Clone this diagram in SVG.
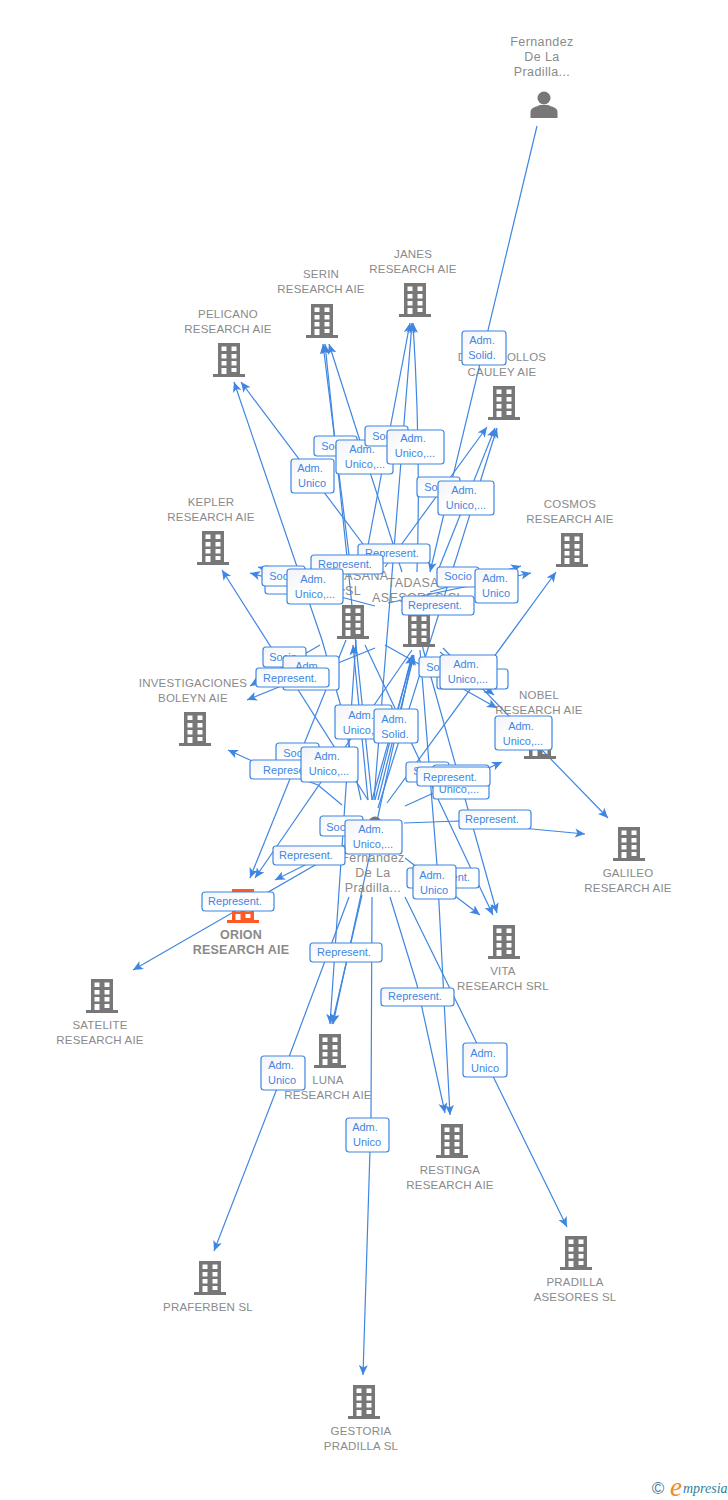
<svg xmlns="http://www.w3.org/2000/svg" width="728" height="1500" viewBox="0 0 728 1500">
<style>
.e{fill:none;stroke:#3f86e2;stroke-width:1.2;marker-end:url(#a)}
.n{font:11.5px "Liberation Sans",Arial,sans-serif;fill:#8a8a8a;text-anchor:middle;letter-spacing:.2px}
.big{font-size:12.5px;letter-spacing:.4px}
.b{fill:url(#g);stroke:#3f86e2;stroke-width:1.2}
.l{font:11px "Liberation Sans",Arial,sans-serif;fill:#3f86e2;text-anchor:middle}
</style>
<defs>
<linearGradient id="g" x1="0" y1="0" x2="1" y2="1"><stop offset="0" stop-color="#f1f3f7"/><stop offset=".5" stop-color="#fff"/><stop offset="1" stop-color="#fff"/></linearGradient>
<marker id="a" markerUnits="userSpaceOnUse" markerWidth="12" markerHeight="12" refX="10" refY="5" orient="auto"><path d="M0,0.500L10,5L0,9.500L2.500,5Z" fill="#3f86e2"/></marker>
<g id="bd"><path fill-rule="evenodd" d="M-11,-17H11V14H16V17H-16V14H-11ZM-7.500,-13.500V-9H-2.500V-13.500ZM2.500,-13.500V-9H7.500V-13.500ZM-7.500,-6V-1.500H-2.500V-6ZM2.500,-6V-1.500H7.500V-6ZM-7.500,1V5.500H-2.500V1ZM2.500,1V5.500H7.500V1ZM-7.500,8V14H-2.500V8ZM2.500,8V12H7.500V8Z"/></g>
<g id="pr"><circle cx="0" cy="-7" r="6.500"/><path d="M-13.500,13V7C-13.500,3 -9,2 -4,0H4C9,2 13.500,3 13.500,7V13Z"/></g>
</defs>
<rect width="728" height="1500" fill="#fff"/>
<g id="connectors">
<path class="e" d="M537,126L430,572"/>
<path class="e" d="M366,556L410,323"/>
<path class="e" d="M374,800L412,323"/>
<path class="e" d="M417,572Q421,450 413,323"/>
<path class="e" d="M349,555L323,344"/>
<path class="e" d="M372,800L325,344"/>
<path class="e" d="M402,572L329,344"/>
<path class="e" d="M375,560L241,382"/>
<path class="e" d="M361,800L340,703L322,640L234,382"/>
<path class="e" d="M385,567L487,427"/>
<path class="e" d="M437,573L495,428"/>
<path class="e" d="M378,808L497,428"/>
<path class="e" d="M368,800L222,570"/>
<path class="e" d="M387,803L556,572"/>
<path class="e" d="M375,606L250,573"/>
<path class="e" d="M345,590L258,567"/>
<path class="e" d="M388,603L531,573"/>
<path class="e" d="M430,592L521,566"/>
<path class="e" d="M375,648L247,700"/>
<path class="e" d="M320,645L250,686"/>
<path class="e" d="M342,805L318,785L250,760L228,750"/>
<path class="e" d="M385,645L497,708"/>
<path class="e" d="M440,652L494,695"/>
<path class="e" d="M405,806L502,762"/>
<path class="e" d="M443,648L608,818"/>
<path class="e" d="M404,823L459,821L532,829L585,834"/>
<path class="e" d="M405,858L480,915"/>
<path class="e" d="M422,645L497,913"/>
<path class="e" d="M365,645L493,915"/>
<path class="e" d="M346,640L250,878"/>
<path class="e" d="M412,650L255,878"/>
<path class="e" d="M345,845L275,880"/>
<path class="e" d="M350,845L133,970"/>
<path class="e" d="M356,640L330,1024"/>
<path class="e" d="M413,655L333,1024"/>
<path class="e" d="M362,895L332,1024"/>
<path class="e" d="M390,897L417,985L445,1113"/>
<path class="e" d="M420,650L437,865L450,1115"/>
<path class="e" d="M349,897L283,1073L214,1251"/>
<path class="e" d="M405,897L485,1060L567,1227"/>
<path class="e" d="M372,897L371,1118L363,1375"/>
<path class="e" d="M368,800L353,645"/>
<path class="e" d="M372,800L413,655"/>
<path class="e" d="M375,800L412,655"/>
<path class="e" d="M378,800L414,655"/>
</g>
<g id="n-fernandez-top" fill="#777"><use href="#pr" x="544" y="105"/><text class="n big"><tspan x="542" y="46">Fernandez</tspan><tspan x="542" y="61">De La</tspan><tspan x="542" y="76">Pradilla...</tspan></text></g>
<g id="n-janes" fill="#777"><use href="#bd" x="415" y="300"/><text class="n"><tspan x="413" y="258">JANES</tspan><tspan x="413" y="273">RESEARCH AIE</tspan></text></g>
<g id="n-serin" fill="#777"><use href="#bd" x="322" y="321"/><text class="n"><tspan x="321" y="278">SERIN</tspan><tspan x="321" y="293">RESEARCH AIE</tspan></text></g>
<g id="n-pelicano" fill="#777"><use href="#bd" x="229" y="360"/><text class="n"><tspan x="228" y="318">PELICANO</tspan><tspan x="228" y="333">RESEARCH AIE</tspan></text></g>
<g id="n-desarrollos" fill="#777"><use href="#bd" x="504" y="403"/><text class="n"><tspan x="502" y="361">DESARROLLOS</tspan><tspan x="502" y="376">CAULEY AIE</tspan></text></g>
<g id="n-kepler" fill="#777"><use href="#bd" x="213" y="548"/><text class="n"><tspan x="211" y="506">KEPLER</tspan><tspan x="211" y="521">RESEARCH AIE</tspan></text></g>
<g id="n-cosmos" fill="#777"><use href="#bd" x="572" y="550"/><text class="n"><tspan x="570" y="508">COSMOS</tspan><tspan x="570" y="523">RESEARCH AIE</tspan></text></g>
<g id="n-masana" fill="#777"><use href="#bd" x="353" y="622"/><text class="n big"><tspan x="361" y="580">MASANA</tspan><tspan x="353" y="595">SL</tspan></text></g>
<g id="n-tadasan" fill="#777"><use href="#bd" x="419" y="630"/><text class="n big"><tspan x="418" y="587">TADASAN</tspan><tspan x="418" y="602">ASESORES SL</tspan></text></g>
<g id="n-investigaciones" fill="#777"><use href="#bd" x="195" y="729"/><text class="n"><tspan x="193" y="687">INVESTIGACIONES</tspan><tspan x="193" y="702">BOLEYN AIE</tspan></text></g>
<g id="n-nobel" fill="#777"><use href="#bd" x="540" y="742"/><text class="n"><tspan x="539" y="699">NOBEL</tspan><tspan x="539" y="714">RESEARCH AIE</tspan></text></g>
<g id="n-galileo" fill="#777"><use href="#bd" x="629" y="844"/><text class="n"><tspan x="628" y="877">GALILEO</tspan><tspan x="628" y="892">RESEARCH AIE</tspan></text></g>
<g id="n-hub" fill="#777"><use href="#pr" x="375" y="830"/><text class="n big"><tspan x="373" y="862">Fernandez</tspan><tspan x="373" y="877">De La</tspan><tspan x="373" y="892">Pradilla...</tspan></text></g>
<g id="n-orion" fill="#ff5a26"><use href="#bd" x="243" y="906"/><text class="n" style="font-weight:bold;font-size:12.500px"><tspan x="241" y="939">ORION</tspan><tspan x="241" y="954">RESEARCH AIE</tspan></text></g>
<g id="n-satelite" fill="#777"><use href="#bd" x="102" y="996"/><text class="n"><tspan x="100" y="1029">SATELITE</tspan><tspan x="100" y="1044">RESEARCH AIE</tspan></text></g>
<g id="n-vita" fill="#777"><use href="#bd" x="504" y="942"/><text class="n"><tspan x="503" y="975">VITA</tspan><tspan x="503" y="990">RESEARCH SRL</tspan></text></g>
<g id="n-luna" fill="#777"><use href="#bd" x="330" y="1051"/><text class="n"><tspan x="328" y="1084">LUNA</tspan><tspan x="328" y="1099">RESEARCH AIE</tspan></text></g>
<g id="n-restinga" fill="#777"><use href="#bd" x="452" y="1141"/><text class="n"><tspan x="450" y="1174">RESTINGA</tspan><tspan x="450" y="1189">RESEARCH AIE</tspan></text></g>
<g id="n-praferben" fill="#777"><use href="#bd" x="210" y="1278"/><text class="n"><tspan x="208" y="1311">PRAFERBEN SL</tspan></text></g>
<g id="n-pradilla" fill="#777"><use href="#bd" x="576" y="1253"/><text class="n"><tspan x="575" y="1286">PRADILLA</tspan><tspan x="575" y="1301">ASESORES SL</tspan></text></g>
<g id="n-gestoria" fill="#777"><use href="#bd" x="364" y="1402"/><text class="n"><tspan x="361" y="1435">GESTORIA</tspan><tspan x="361" y="1450">PRADILLA SL</tspan></text></g>
<g id="edge-labels">
<rect class="b" x="462" y="331" width="44" height="34" rx="3"/><text class="l"><tspan x="482" y="344">Adm.</tspan><tspan x="482" y="359">Solid.</tspan></text>
<rect class="b" x="314" y="436" width="43" height="20" rx="3"/><text class="l" x="335" y="450">Socio</text>
<rect class="b" x="336" y="440" width="57" height="34" rx="3"/><text class="l"><tspan x="362" y="453">Adm.</tspan><tspan x="365" y="468">Unico,...</tspan></text>
<rect class="b" x="365" y="426" width="43" height="20" rx="3"/><text class="l" x="386" y="440">Socio</text>
<rect class="b" x="387" y="430" width="57" height="34" rx="3"/><text class="l"><tspan x="413" y="442">Adm.</tspan><tspan x="415" y="457">Unico,...</tspan></text>
<rect class="b" x="291" y="459" width="43" height="34" rx="3"/><text class="l"><tspan x="310" y="472">Adm.</tspan><tspan x="312" y="487">Unico</tspan></text>
<rect class="b" x="417" y="477" width="43" height="20" rx="3"/><text class="l" x="438" y="491">Socio</text>
<rect class="b" x="438" y="481" width="56" height="34" rx="3"/><text class="l"><tspan x="464" y="494">Adm.</tspan><tspan x="466" y="509">Unico,...</tspan></text>
<rect class="b" x="358" y="544" width="72" height="19" rx="3"/><text class="l" x="392" y="557">Represent.</text>
<rect class="b" x="311" y="555" width="72" height="19" rx="3"/><text class="l" x="345" y="568">Represent.</text>
<rect class="b" x="265" y="574" width="43" height="20" rx="3"/>
<rect class="b" x="262" y="566" width="43" height="20" rx="3"/><text class="l" x="283" y="580">Socio</text>
<rect class="b" x="287" y="569" width="56" height="35" rx="3"/><text class="l"><tspan x="313" y="583">Adm.</tspan><tspan x="315" y="598">Unico,...</tspan></text>
<rect class="b" x="437" y="567" width="42" height="20" rx="3"/><text class="l" x="458" y="580">Socio</text>
<rect class="b" x="475" y="569" width="43" height="34" rx="3"/><text class="l"><tspan x="495" y="582">Adm.</tspan><tspan x="496" y="597">Unico</tspan></text>
<rect class="b" x="402" y="596" width="72" height="19" rx="3"/><text class="l" x="435" y="609">Represent.</text>
<rect class="b" x="263" y="647" width="43" height="20" rx="3"/><text class="l" x="283" y="661">Socio</text>
<rect class="b" x="283" y="656" width="56" height="34" rx="3"/><text class="l"><tspan x="308" y="670">Adm.</tspan></text>
<rect class="b" x="256" y="668" width="73" height="19" rx="3"/><text class="l" x="290" y="682">Represent.</text>
<rect class="b" x="437" y="669" width="71" height="20" rx="3"/>
<rect class="b" x="419" y="657" width="43" height="20" rx="3"/><text class="l" x="440" y="671">Socio</text>
<rect class="b" x="440" y="655" width="57" height="34" rx="3"/><text class="l"><tspan x="466" y="668">Adm.</tspan><tspan x="468" y="683">Unico,...</tspan></text>
<rect class="b" x="335" y="705" width="57" height="34" rx="3"/><text class="l"><tspan x="361" y="719">Adm.</tspan><tspan x="363" y="734">Unico,...</tspan></text>
<rect class="b" x="374" y="709" width="44" height="34" rx="3"/><text class="l"><tspan x="394" y="723">Adm.</tspan><tspan x="395" y="738">Solid.</tspan></text>
<rect class="b" x="495" y="716" width="57" height="34" rx="3"/><text class="l"><tspan x="521" y="730">Adm.</tspan><tspan x="523" y="745">Unico,...</tspan></text>
<rect class="b" x="276" y="743" width="43" height="20" rx="3"/><text class="l" x="297" y="757">Socio</text>
<rect class="b" x="250" y="760" width="73" height="19" rx="3"/><text class="l" x="290" y="774">Represent.</text>
<rect class="b" x="301" y="747" width="57" height="35" rx="3"/><text class="l"><tspan x="327" y="760">Adm.</tspan><tspan x="329" y="775">Unico,...</tspan></text>
<rect class="b" x="406" y="762" width="43" height="20" rx="3"/><text class="l" x="427" y="775">Socio</text>
<rect class="b" x="433" y="765" width="56" height="34" rx="3"/><text class="l"><tspan x="459" y="793">Unico,...</tspan></text>
<rect class="b" x="417" y="767" width="73" height="19" rx="3"/><text class="l" x="450" y="781">Represent.</text>
<rect class="b" x="320" y="816" width="43" height="20" rx="3"/><text class="l" x="340" y="831">Socio</text>
<rect class="b" x="345" y="820" width="57" height="34" rx="3"/><text class="l"><tspan x="371" y="833">Adm.</tspan><tspan x="373" y="848">Unico,...</tspan></text>
<rect class="b" x="459" y="810" width="72" height="19" rx="3"/><text class="l" x="492" y="823">Represent.</text>
<rect class="b" x="273" y="846" width="72" height="19" rx="3"/><text class="l" x="306" y="859">Represent.</text>
<rect class="b" x="407" y="868" width="72" height="20" rx="3"/><text class="l" x="443" y="881">Represent.</text>
<rect class="b" x="413" y="865" width="43" height="34" rx="3"/><text class="l"><tspan x="432" y="879">Adm.</tspan><tspan x="434" y="894">Unico</tspan></text>
<rect class="b" x="202" y="892" width="72" height="19" rx="3"/><text class="l" x="235" y="905">Represent.</text>
<rect class="b" x="310" y="943" width="72" height="19" rx="3"/><text class="l" x="344" y="956">Represent.</text>
<rect class="b" x="381" y="988" width="73" height="18" rx="3"/><text class="l" x="415" y="1000">Represent.</text>
<rect class="b" x="463" y="1043" width="44" height="34" rx="3"/><text class="l"><tspan x="483" y="1057">Adm.</tspan><tspan x="485" y="1072">Unico</tspan></text>
<rect class="b" x="261" y="1056" width="44" height="34" rx="3"/><text class="l"><tspan x="281" y="1069">Adm.</tspan><tspan x="282" y="1084">Unico</tspan></text>
<rect class="b" x="346" y="1118" width="43" height="34" rx="3"/><text class="l"><tspan x="365" y="1131">Adm.</tspan><tspan x="367" y="1146">Unico</tspan></text>
</g>
<g id="logo"><text x="658" y="1494" font-family="Liberation Sans,sans-serif" font-size="17" fill="#4a7d9c" text-anchor="middle">©</text>
<text x="670" y="1496" font-family="Liberation Serif,serif" font-style="italic" font-size="27" fill="#f08a24">e</text>
<text x="683" y="1493" font-family="Liberation Serif,serif" font-style="italic" font-size="14" fill="#2f7f9e">mpresia</text></g>
</svg>
